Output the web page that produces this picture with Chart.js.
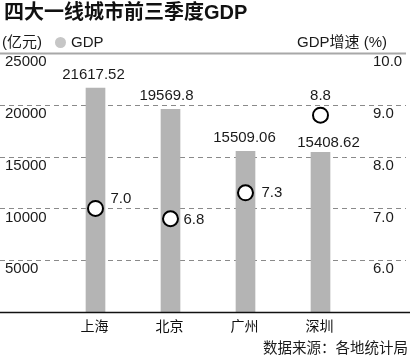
<!DOCTYPE html>
<html>
<head>
<meta charset="utf-8">
<script src="https://cdn.jsdelivr.net/npm/chart.js@4"></script>
<style>
  html, body { margin: 0; padding: 0; background: #fff; }
  #wrap { position: relative; width: 410px; height: 357px; overflow: hidden; background: #fff; }
  #c { position: absolute; left: 0; top: 0; }
  .t { position: absolute; white-space: nowrap; color: #1a1a1a; font-family: "Liberation Sans", "Noto Sans CJK SC", sans-serif; }
</style>
</head>
<body>
<div id="wrap">
  <canvas id="c" width="410" height="357"></canvas>
  <div class="t" style="left:4px;top:0px;font-size:20px;line-height:24px;font-weight:bold;color:#111;">四大一线城市前三季度GDP</div>
  <div class="t" style="left:2px;top:33px;font-size:15px;line-height:18px;">(亿元)</div>
  <div class="t" style="left:54.5px;top:37px;width:11px;height:11px;border-radius:50%;background:#c6c6c6;"></div>
  <div class="t" style="left:71px;top:33px;font-size:15px;line-height:18px;">GDP</div>
  <div class="t" style="left:297px;top:33px;font-size:15px;line-height:18px;">GDP增速 (%)</div>
  <div class="t" style="right:2px;top:339px;font-size:14.5px;line-height:18px;">数据来源：各地统计局</div>
</div>
<script>
// ---- data ----
const cities = ['上海', '北京', '广州', '深圳'];
const gdpValues = [21617.52, 19569.8, 15509.06, 15408.62];
const gdpLabels = ['21617.52', '19569.8', '15509.06', '15408.62'];
const growthValues = [7.0, 6.8, 7.3, 8.8];
const growthLabels = ['7.0', '6.8', '7.3', '8.8'];
const leftTickValues = [5000, 10000, 15000, 20000, 25000];
const leftTickLabels = ['5000', '10000', '15000', '20000', '25000'];
const rightTickValues = [6, 7, 8, 9, 10];
const rightTickLabels = ['6.0', '7.0', '8.0', '9.0', '10.0'];

// ---- styles (label offsets) ----
const barLabelOffsets = [[-2, -13], [-4, -13], [-1, -13], [8, -10]];
const pointLabelOffsets = [[15, -10, 'left'], [13, 1, 'left'], [16, 0, 'left'], [0, -19, 'center']];

const FONT = '"Liberation Sans", "Noto Sans CJK SC", sans-serif';

const decor = {
  id: 'decor',
  beforeDatasetsDraw(chart) {
    const ctx = chart.ctx;
    const y = chart.scales.y;
    const W = chart.width;
    ctx.save();
    leftTickValues.forEach((v, i) => {
      const py = Math.round(y.getPixelForValue(v)) + 0.5;
      ctx.beginPath();
      if (v === 25000) {
        ctx.setLineDash([]);
        ctx.strokeStyle = '#a8a8a8';
        ctx.lineWidth = 2;
      } else {
        ctx.setLineDash([5, 4]);
        ctx.strokeStyle = '#8a8a8a';
        ctx.lineWidth = 1;
      }
      ctx.moveTo(0, py);
      ctx.lineTo(W - 4, py);
      ctx.stroke();
    });
    ctx.setLineDash([]);
    ctx.restore();
  },
  afterDatasetsDraw(chart) {
    const ctx = chart.ctx;
    const y = chart.scales.y;
    const y1 = chart.scales.y1;
    const x = chart.scales.x;
    const W = chart.width;
    ctx.save();
    // baseline axis
    const py0 = Math.round(y.getPixelForValue(0)) + 0.5;
    ctx.beginPath();
    ctx.strokeStyle = '#111';
    ctx.lineWidth = 1.5;
    ctx.moveTo(0, py0);
    ctx.lineTo(W, py0);
    ctx.stroke();

    ctx.fillStyle = '#1a1a1a';
    ctx.font = '15px ' + FONT;
    ctx.textBaseline = 'middle';
    // left ticks
    ctx.textAlign = 'left';
    leftTickValues.forEach((v, i) => {
      ctx.fillText(leftTickLabels[i], 5, y.getPixelForValue(v) + 9);
    });
    // right ticks
    rightTickValues.forEach((v, i) => {
      ctx.fillText(rightTickLabels[i], 373, y1.getPixelForValue(v) + 9);
    });
    // bar value labels
    const barMeta = chart.getDatasetMeta(1);
    ctx.textAlign = 'center';
    barMeta.data.forEach((el, i) => {
      const o = barLabelOffsets[i];
      ctx.fillText(gdpLabels[i], el.x + o[0], el.y + o[1]);
    });
    // point labels
    const ptMeta = chart.getDatasetMeta(0);
    ptMeta.data.forEach((el, i) => {
      const o = pointLabelOffsets[i];
      ctx.textAlign = o[2];
      ctx.fillText(growthLabels[i], el.x + o[0], el.y + o[1]);
    });
    // category labels
    ctx.font = '14px ' + FONT;
    ctx.textAlign = 'center';
    ctx.fillStyle = '#111';
    cities.forEach((c, i) => {
      ctx.fillText(c, x.getPixelForValue(i) - 1, py0 + 15);
    });
    ctx.restore();
  }
};

new Chart(document.getElementById('c'), {
  type: 'bar',
  data: {
    labels: cities,
    datasets: [
      {
        type: 'line',
        label: 'GDP增速',
        data: growthValues,
        yAxisID: 'y1',
        showLine: false,
        pointRadius: 7.5,
        pointHoverRadius: 7.5,
        pointBackgroundColor: '#ffffff',
        pointBorderColor: '#000000',
        pointBorderWidth: 2,
        order: 0
      },
      {
        type: 'bar',
        label: 'GDP',
        data: gdpValues,
        yAxisID: 'y',
        backgroundColor: '#b4b4b4',
        barThickness: 19,
        order: 1
      }
    ]
  },
  options: {
    responsive: false,
    animation: false,
    devicePixelRatio: 1,
    layout: { padding: { left: 58, right: 52, top: 53, bottom: 45 } },
    plugins: { legend: { display: false }, title: { display: false }, tooltip: { enabled: false } },
    scales: {
      x: { display: false, offset: true },
      y: { display: false, min: 0, max: 25000 },
      y1: { display: false, min: 5, max: 10, position: 'right' }
    }
  },
  plugins: [decor]
});
</script>
</body>
</html>
